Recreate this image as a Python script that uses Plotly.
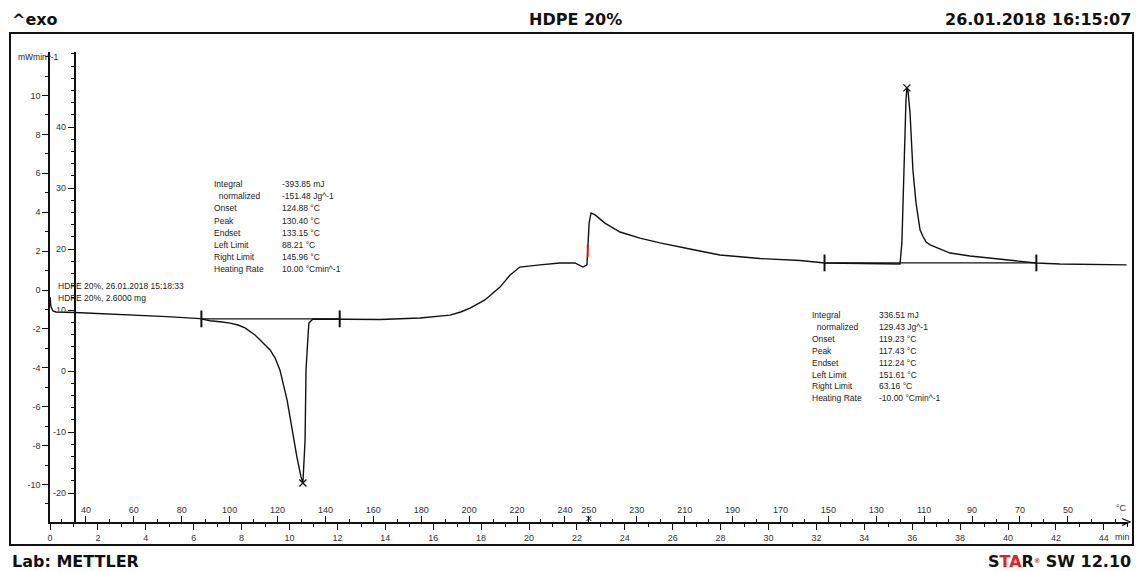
import numpy as np
import plotly.graph_objects as go

# ---------------- data ----------------
time_min = [0.00, 0.04, 0.125, 0.25, 1.04, 2.09, 3.47, 4.89, 6.26, 6.68, 7.10, 7.52, 7.85,
            8.14, 8.56, 8.90, 9.19, 9.40, 9.60, 9.90, 10.10, 10.31, 10.48, 10.56, 10.65,
            10.69, 10.77, 10.81, 10.98, 12.03, 13.78, 15.45, 16.20, 16.70, 17.15, 17.54,
            18.16, 18.79, 19.21, 19.62, 20.46, 21.29, 21.92, 22.25, 22.42, 22.51, 22.59,
            22.76, 23.17, 23.80, 24.63, 25.47, 26.72, 27.97, 29.65, 31.32, 32.36, 33.74,
            35.49, 35.57, 35.66, 35.74, 35.78, 35.82, 35.91, 36.03, 36.16, 36.25, 36.33,
            36.45, 36.58, 36.75, 36.95, 37.25, 37.58, 38.41, 39.67, 40.92, 41.17, 42.17,
            43.84, 44.95]
heat_flow_mw = [-0.36, -0.87, -1.08, -1.13, -1.16, -1.21, -1.31, -1.37, -1.47, -1.58, -1.63,
                -1.70, -1.80, -1.95, -2.31, -2.70, -3.08, -3.50, -4.11, -5.66, -7.20, -8.59,
                -9.61, -9.92, -7.71, -4.11, -2.42, -1.70, -1.49, -1.49, -1.52, -1.44, -1.37,
                -1.29, -1.13, -0.93, -0.51, 0.15, 0.77, 1.18, 1.29, 1.39, 1.39, 1.18, 1.29,
                3.44, 3.96, 3.86, 3.44, 2.98, 2.67, 2.42, 2.11, 1.80, 1.62, 1.52, 1.39, 1.36,
                1.34, 2.42, 7.04, 9.77, 10.39, 10.28, 9.10, 6.17, 4.47, 3.60, 3.08, 2.75,
                2.47, 2.32, 2.21, 2.05, 1.90, 1.75, 1.59, 1.44, 1.39, 1.34, 1.29, 1.29]

# temperature programme: 25 -> 250 °C at 10 K/min, then 250 -> 25 °C at -10 K/min
T_start, T_max, rate = 25.0, 250.0, 10.0
melt_limits_C = [88.21, 145.96]
cryst_limits_C = [151.61, 63.16]

time_tick_labels = list(range(0, 45, 2))
temp_heat_labels = list(range(40, 241, 20))
temp_cool_labels = list(range(230, 49, -20))
mw_tick_labels = list(range(-10, 11, 2))
inner_tick_labels = list(range(-20, 41, 10))

melt_text = [("Integral", "-393.85 mJ"), ("  normalized", "-151.48 Jg^-1"),
             ("Onset", "124.88 °C"), ("Peak", "130.40 °C"), ("Endset", "133.15 °C"),
             ("Left Limit", "88.21 °C"), ("Right Limit", "145.96 °C"),
             ("Heating Rate", "10.00 °Cmin^-1")]
cryst_text = [("Integral", "336.51 mJ"), ("  normalized", "129.43 Jg^-1"),
              ("Onset", "119.23 °C"), ("Peak", "117.43 °C"), ("Endset", "112.24 °C"),
              ("Left Limit", "151.61 °C"), ("Right Limit", "63.16 °C"),
              ("Heating Rate", "-10.00 °Cmin^-1")]

# ---------------- helpers ----------------
t_switch = (T_max - T_start) / rate


def t_heat(T):
    return (T - T_start) / rate


def t_cool(T):
    return t_switch + (T_max - T) / rate


t = np.array(time_min)
hf = np.array(heat_flow_mw)

# plot area in pixels
W, H = 1142, 571
PL, PR, PT, PB = 50, 1128, 52, 522


def px_x(x):
    return (x - PL) / (PR - PL)


def px_y(y):
    return (PB - y) / (PB - PT)


INK = "#111"
TICKFONT = dict(family="Liberation Sans", size=9, color="#333")
TXTFONT = dict(family="Liberation Sans", size=8.5, color="#222")
HEADFONT = dict(family="DejaVu Sans", size=16, color=INK)

fig = go.Figure()

# main curve
fig.add_trace(go.Scatter(x=t, y=hf, mode="lines", line=dict(color=INK, width=1.4),
                         showlegend=False, hoverinfo="skip"))

# integration baselines and limit markers
for lims, tf in ((melt_limits_C, t_heat), (cryst_limits_C, t_cool)):
    tl = [tf(v) for v in lims]
    yl = [float(np.interp(v, t, hf)) for v in tl]
    ybase = [yl[0], yl[0]]
    fig.add_trace(go.Scatter(x=tl, y=ybase, mode="lines", line=dict(color=INK, width=1.4),
                             showlegend=False, hoverinfo="skip"))
    fig.add_trace(go.Scatter(x=tl, y=ybase, mode="markers",
                             marker=dict(symbol="line-ns-open", size=12, color=INK,
                                         line=dict(color=INK, width=2)),
                             showlegend=False, hoverinfo="skip"))

# peak markers
i_min = int(np.argmin(hf))
i_max = int(np.argmax(hf))
fig.add_trace(go.Scatter(x=[t[i_min], t[i_max]], y=[hf[i_min], hf[i_max]], mode="markers",
                         marker=dict(symbol="x-thin-open", size=7, color=INK,
                                     line=dict(color=INK, width=1.3)),
                         showlegend=False, hoverinfo="skip"))

# red marker at the end of heating segment
fig.add_trace(go.Scatter(x=[t_switch - 0.05], y=[float(np.interp(t_switch - 0.05, t, hf))],
                         mode="markers",
                         marker=dict(symbol="line-ns-open", size=9, color="red",
                                     line=dict(color="red", width=1.8)),
                         showlegend=False, hoverinfo="skip"))

# axis marker at switch point
fig.add_trace(go.Scatter(x=[t_switch], y=[-11.75], mode="markers", cliponaxis=False,
                         marker=dict(symbol="x-thin-open", size=5, color=INK,
                                     line=dict(color=INK, width=1)),
                         showlegend=False, hoverinfo="skip"))

# dummy trace for secondary axes
fig.add_trace(go.Scatter(x=[None], y=[None], xaxis="x2", yaxis="y2", mode="lines",
                         showlegend=False, hoverinfo="skip"))

# temperature ticks
temp_tickvals = [t_heat(v) for v in temp_heat_labels] + [t_switch] + [t_cool(v) for v in temp_cool_labels]
temp_ticktext = [str(v) for v in temp_heat_labels] + [str(int(T_max))] + [str(v) for v in temp_cool_labels]
temp_minor = [t_heat(v) for v in range(30, 250, 10) if v not in temp_heat_labels] + \
             [t_cool(v) for v in range(240, 29, -10) if v not in temp_cool_labels]

x_range = [0, (PR - PL) / 23.95]
y_range = [(290 - PB) / 19.45, (290 - PT) / 19.45]
y2_range = [(371 - PB) / 6.1, (371 - PT) / 6.1]

fig.update_layout(
    width=W, height=H, autosize=False,
    margin=dict(l=PL, r=W - PR, t=PT, b=H - PB),
    paper_bgcolor="white", plot_bgcolor="white",
    xaxis=dict(range=x_range, showgrid=False, zeroline=False, showline=True,
               linecolor=INK, linewidth=1.5, ticks="outside", ticklen=6, tickwidth=1.3,
               tickcolor=INK, tickvals=time_tick_labels, ticktext=[str(v) for v in time_tick_labels],
               tickfont=TICKFONT,
               minor=dict(dtick=1, ticks="outside", ticklen=3, tickwidth=1, tickcolor=INK)),
    xaxis2=dict(overlaying="x", anchor="y", side="bottom", range=x_range, showgrid=False,
                zeroline=False, showline=False, ticks="inside", ticklen=6, tickwidth=1.3,
                tickcolor=INK, tickvals=temp_tickvals, ticktext=temp_ticktext,
                ticklabelposition="inside", tickfont=TICKFONT,
                minor=dict(tickvals=temp_minor, ticks="inside", ticklen=3, tickwidth=1,
                           tickcolor=INK)),
    yaxis=dict(range=y_range, showgrid=False, zeroline=False, showline=True,
               linecolor=INK, linewidth=1.5, ticks="outside", ticklen=6, tickwidth=1.3,
               tickcolor=INK, tickvals=mw_tick_labels, ticktext=[str(v) for v in mw_tick_labels],
               tickfont=TICKFONT,
               minor=dict(dtick=1, ticks="outside", ticklen=3, tickwidth=1, tickcolor=INK)),
    yaxis2=dict(overlaying="y", anchor="free", position=px_x(74.5), side="left",
                range=y2_range, showgrid=False, zeroline=False, showline=True,
                linecolor=INK, linewidth=1.5, ticks="outside", ticklen=6, tickwidth=1.3,
                tickcolor=INK, tickvals=inner_tick_labels,
                ticktext=[str(v) for v in inner_tick_labels], tickfont=TICKFONT,
                minor=dict(dtick=2, ticks="outside", ticklen=3, tickwidth=1, tickcolor=INK)),
)

ann = []


def add_text(x, y, text, font, xanchor="left", yanchor="middle"):
    ann.append(dict(x=px_x(x), y=px_y(y), xref="paper", yref="paper", text=text,
                    showarrow=False, xanchor=xanchor, yanchor=yanchor, font=font))


# header / footer
add_text(10, 20, "<b>^exo</b>", HEADFONT)
add_text(575, 20, "<b>HDPE 20%</b>", HEADFONT, xanchor="center")
add_text(1133, 20, "<b>26.01.2018 16:15:07</b>", HEADFONT, xanchor="right")
add_text(10, 561, "<b>Lab: METTLER</b>", HEADFONT)
add_text(1133, 561, "<b>S<span style='color:#e8201c'>TA</span>R"
                    "<span style='color:#e8201c;font-size:9px'><sup>®</sup></span> SW 12.10</b>",
         HEADFONT, xanchor="right")

# axis units
add_text(16, 57, "mWmin^-1", TXTFONT)
add_text(1113, 537, "min", TICKFONT)
add_text(1114, 508, "°C", TICKFONT)

# sample info
add_text(56, 286, "HDPE 20%, 26.01.2018 15:18:33", TXTFONT)
add_text(56, 298, "HDPE 20%, 2.6000 mg", TXTFONT)

# evaluation blocks
for i, (lab, val) in enumerate(melt_text):
    y = 184 + i * 12.2
    add_text(212, y, lab.replace("  ", "&nbsp;&nbsp;"), TXTFONT)
    add_text(280, y, val, TXTFONT)
for i, (lab, val) in enumerate(cryst_text):
    y = 315 + i * 11.9
    add_text(810, y, lab.replace("  ", "&nbsp;&nbsp;"), TXTFONT)
    add_text(877, y, val, TXTFONT)

fig.update_layout(annotations=ann)

# axis arrow head
fig.add_shape(type="path", xref="paper", yref="paper",
              path=f"M {px_x(1122)} {px_y(518.5)} L {px_x(1130)} {px_y(522)} L {px_x(1122)} {px_y(525.5)}",
              line=dict(color=INK, width=1.3))

# outer frame
fig.add_shape(type="rect", xref="paper", yref="paper",
              x0=px_x(10), x1=px_x(1133), y0=px_y(545), y1=px_y(33),
              line=dict(color=INK, width=2), fillcolor="rgba(0,0,0,0)")

fig.write_html("out.html")
